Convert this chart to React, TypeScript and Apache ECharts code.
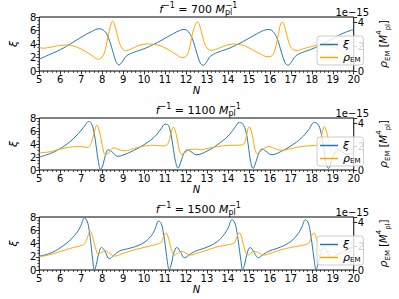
import { useEffect, useRef } from "react";
import * as echarts from "echarts";

type P = [number, number];

const fInverse = ["700", "1100", "1500"];
const nTicks = [5, 20, 1]; // min, max, step of N axis
const xiRange = [0, 8, 2];
const rhoRange = [0, 4.44, 2];

const xi700: P[] = [
  [5.0, 1.75], [5.5, 2.45], [6.0, 3.15], [6.5, 4.05], [7.0, 5.0], [7.5, 5.85], [7.85, 6.25],
  [8.1, 5.95], [8.3, 4.9], [8.5, 3.0], [8.66, 1.4], [8.8, 0.9], [8.95, 1.3], [9.15, 2.2],
  [9.5, 2.75], [10.0, 3.3], [10.5, 4.0], [11.0, 4.85], [11.4, 5.55], [11.7, 6.0], [11.9, 6.15],
  [12.1, 5.85], [12.3, 4.8], [12.5, 2.8], [12.68, 1.2], [12.82, 0.85], [12.97, 1.3],
  [13.17, 2.2], [13.5, 2.75], [14.0, 3.3], [14.5, 4.0], [15.0, 4.85], [15.4, 5.55],
  [15.7, 6.0], [15.95, 6.15], [16.15, 5.85], [16.35, 4.8], [16.55, 2.8], [16.73, 1.2],
  [16.87, 0.85], [17.02, 1.3], [17.22, 2.2], [17.55, 2.75], [18.0, 3.25], [18.5, 3.95],
  [19.0, 4.8], [19.5, 5.6], [20.0, 6.15],
];
const rho700: P[] = [
  [5.0, 1.94], [5.2, 1.87], [5.5, 1.95], [6.0, 2.1], [6.3, 2.14], [6.6, 2.07], [7.0, 1.8],
  [7.5, 1.3], [7.8, 0.97], [8.0, 1.15], [8.15, 1.75], [8.3, 3.0], [8.42, 3.85], [8.5, 4.1],
  [8.58, 3.9], [8.7, 3.1], [8.85, 2.2], [9.0, 1.78], [9.12, 1.67], [9.4, 1.83], [9.8, 2.13],
  [10.2, 2.22], [10.6, 2.15], [11.0, 1.9], [11.5, 1.4], [11.8, 1.11], [12.0, 1.2],
  [12.15, 1.75], [12.3, 3.0], [12.45, 3.85], [12.55, 4.05], [12.63, 3.85], [12.75, 3.1],
  [12.9, 2.2], [13.05, 1.8], [13.2, 1.7], [13.6, 1.9], [14.0, 2.15], [14.3, 2.22],
  [14.7, 2.12], [15.0, 1.9], [15.5, 1.45], [15.9, 1.17], [16.1, 1.25], [16.25, 1.8],
  [16.4, 3.0], [16.52, 3.9], [16.6, 4.02], [16.68, 3.8], [16.8, 3.0], [16.95, 2.15],
  [17.1, 1.78], [17.3, 1.69], [17.6, 1.83], [18.0, 2.02], [18.4, 2.15], [18.8, 2.1],
  [19.2, 1.85], [19.6, 1.45], [20.0, 1.22],
];

const xi1100: P[] = [
  [5.0, 2.0], [5.5, 2.5], [6.0, 3.3], [6.5, 4.45], [7.0, 6.1], [7.2, 6.95], [7.35, 7.45],
  [7.48, 7.2], [7.6, 6.0], [7.72, 3.5], [7.82, 1.3], [7.92, 0.1], [8.02, 0.6], [8.15, 2.2],
  [8.28, 3.1], [8.45, 2.85], [8.75, 2.1], [9.0, 2.3], [9.5, 3.0], [10.0, 3.9], [10.5, 5.1],
  [10.8, 6.3], [11.0, 7.05], [11.12, 7.0], [11.25, 6.0], [11.37, 3.8], [11.5, 1.3],
  [11.62, 0.3], [11.75, 1.2], [11.9, 2.6], [12.05, 3.1], [12.2, 2.9], [12.5, 2.35],
  [13.0, 2.9], [13.5, 3.9], [14.0, 5.2], [14.3, 6.4], [14.55, 7.3], [14.7, 7.1],
  [14.85, 6.0], [14.97, 3.8], [15.08, 1.3], [15.2, 0.25], [15.32, 1.1], [15.48, 2.6],
  [15.63, 3.25], [15.8, 2.9], [16.1, 2.35], [16.5, 2.8], [17.0, 3.7], [17.5, 4.9],
  [17.85, 6.2], [18.12, 7.3], [18.28, 7.1], [18.42, 6.0], [18.55, 3.8], [18.67, 1.3],
  [18.8, 0.25], [18.92, 1.1], [19.08, 2.6], [19.23, 3.2], [19.4, 2.9], [19.7, 2.4],
  [20.0, 2.85],
];
const rho1100: P[] = [
  [5.0, 1.47], [5.5, 1.55], [6.0, 1.78], [6.5, 1.96], [7.0, 2.0], [7.3, 1.92], [7.45, 2.2],
  [7.58, 2.9], [7.68, 3.6], [7.75, 3.83], [7.82, 3.6], [7.92, 2.9], [8.03, 1.9], [8.15, 1.32],
  [8.3, 1.44], [8.55, 1.89], [8.85, 1.72], [9.1, 1.64], [9.5, 1.83], [10.0, 2.04],
  [10.5, 2.11], [10.9, 2.06], [11.1, 2.16], [11.22, 2.7], [11.32, 3.4], [11.4, 3.66],
  [11.48, 3.4], [11.58, 2.6], [11.7, 1.6], [11.8, 1.33], [12.0, 1.55], [12.2, 1.76],
  [12.5, 1.78], [12.7, 1.73], [13.0, 1.83], [13.5, 2.0], [14.0, 2.1], [14.5, 2.12],
  [14.75, 2.2], [14.87, 2.8], [14.95, 3.5], [15.02, 3.68], [15.1, 3.4], [15.2, 2.6],
  [15.3, 1.7], [15.4, 1.39], [15.6, 1.67], [15.95, 2.0], [16.3, 1.78], [16.6, 1.68],
  [17.0, 1.83], [17.5, 2.0], [18.0, 2.08], [18.3, 2.13], [18.43, 2.7], [18.52, 3.4],
  [18.6, 3.72], [18.68, 3.4], [18.8, 2.5], [18.92, 1.6], [19.02, 1.39], [19.4, 1.78],
  [19.7, 1.94], [20.0, 1.8],
];

const xi1500: P[] = [
  [5.0, 2.1], [5.5, 2.5], [6.0, 3.35], [6.5, 4.6], [6.85, 5.9], [7.0, 6.8], [7.15, 7.85],
  [7.28, 7.4], [7.38, 6.0], [7.47, 3.8], [7.55, 1.5], [7.63, 0.05], [7.72, 0.8], [7.83, 2.4],
  [7.97, 3.4], [8.12, 2.9], [8.35, 1.7], [8.55, 2.2], [8.85, 2.9], [9.2, 3.2], [9.6, 3.55],
  [10.0, 4.15], [10.3, 5.0], [10.5, 6.0], [10.7, 7.4], [10.82, 7.0], [10.92, 5.6],
  [11.02, 3.5], [11.1, 1.5], [11.2, 0.1], [11.3, 0.9], [11.42, 2.6], [11.56, 3.4],
  [11.72, 2.8], [11.93, 1.85], [12.2, 2.4], [12.5, 2.9], [13.0, 3.45], [13.5, 4.3],
  [13.8, 5.3], [14.0, 6.3], [14.2, 7.6], [14.33, 7.1], [14.43, 5.7], [14.53, 3.5],
  [14.62, 1.4], [14.7, 0.1], [14.8, 0.9], [14.92, 2.6], [15.06, 3.4], [15.22, 2.8],
  [15.45, 1.85], [15.7, 2.4], [16.0, 2.9], [16.5, 3.45], [17.0, 4.3], [17.3, 5.3],
  [17.5, 6.3], [17.7, 7.6], [17.83, 7.1], [17.93, 5.7], [18.03, 3.5], [18.12, 1.4],
  [18.2, 0.1], [18.3, 0.9], [18.42, 2.6], [18.56, 3.4], [18.72, 2.8], [18.95, 1.85],
  [19.3, 2.5], [19.65, 3.05], [20.0, 3.5],
];
const rho1500: P[] = [
  [5.0, 1.11], [5.5, 1.28], [6.0, 1.55], [6.5, 1.82], [7.0, 2.05], [7.15, 2.16], [7.25, 2.5],
  [7.34, 2.95], [7.42, 3.25], [7.5, 3.05], [7.6, 2.4], [7.7, 1.75], [7.8, 1.35], [7.95, 1.44],
  [8.15, 1.61], [8.35, 1.39], [8.6, 1.17], [8.9, 1.33], [9.5, 1.67], [10.0, 1.89],
  [10.5, 2.11], [10.8, 2.3], [10.9, 2.65], [10.98, 3.0], [11.05, 3.11], [11.13, 2.85],
  [11.23, 2.2], [11.35, 1.45], [11.47, 1.25], [11.65, 1.5], [11.82, 1.55], [12.0, 1.4],
  [12.2, 1.25], [12.5, 1.39], [13.0, 1.67], [13.5, 1.94], [14.0, 2.11], [14.3, 2.28],
  [14.4, 2.65], [14.48, 3.0], [14.55, 3.11], [14.63, 2.85], [14.73, 2.2], [14.85, 1.45],
  [14.97, 1.25], [15.15, 1.5], [15.3, 1.55], [15.5, 1.42], [15.72, 1.25], [16.0, 1.39],
  [16.5, 1.67], [17.0, 1.89], [17.5, 2.05], [17.85, 2.25], [17.95, 2.65], [18.03, 3.0],
  [18.1, 3.11], [18.18, 2.85], [18.28, 2.2], [18.4, 1.45], [18.52, 1.28], [18.7, 1.5],
  [18.88, 1.58], [19.1, 1.45], [19.4, 1.35], [20.0, 1.67],
];

const xiData = [xi700, xi1100, xi1500];
const rhoData = [rho700, rho1100, rho1500];

const FONT = "DejaVu Sans";
const BLUE = "#1f77b4";
const ORANGE = "#ffa500";
const LEFT = 27;
const WIDTH = 342;
const TOPS = [17, 118, 217];
const HEIGHTS = [54, 52, 53];

export default function App() {
  const ref = useRef<HTMLDivElement>(null);
  useEffect(() => {
    const chart = echarts.init(ref.current!, null, { renderer: "svg" });
    const tick = { show: true, inside: false, length: 3.5, lineStyle: { color: "#000", width: 0.8 } };
    const minor = (n: number) => ({ show: true, splitNumber: n, length: 2, lineStyle: { color: "#000", width: 0.6 } });
    const label = { color: "#000", fontSize: 10, fontFamily: FONT, margin: 3, inside: false };

    const grids = TOPS.map((t, i) => ({
      left: LEFT, top: t, width: WIDTH, height: HEIGHTS[i], containLabel: false,
      show: true, borderColor: "#000", borderWidth: 1, backgroundColor: "transparent",
    }));
    const xAxes = TOPS.map((_, i) => ({
      type: "value", gridIndex: i, min: nTicks[0], max: nTicks[1], interval: nTicks[2],
      axisLine: { show: false }, axisTick: tick, minorTick: minor(5),
      axisLabel: label, splitLine: { show: false },
      name: "N", nameLocation: "middle", nameGap: 14,
      nameTextStyle: { fontStyle: "italic", fontSize: 10, color: "#000", fontFamily: FONT },
    }));
    const yAxes: any[] = [];
    TOPS.forEach((_, i) => {
      yAxes.push({
        type: "value", gridIndex: i, position: "left", offset: 0,
        min: xiRange[0], max: xiRange[1], interval: xiRange[2],
        axisLine: { show: false }, axisTick: tick, minorTick: minor(4),
        axisLabel: label, splitLine: { show: false },
        name: "ξ", nameLocation: "middle", nameGap: 10, nameRotate: 90,
        nameTextStyle: { fontStyle: "italic", fontSize: 11, color: "#000", fontFamily: FONT },
      });
      yAxes.push({
        type: "value", gridIndex: i, position: "right", offset: 0,
        min: rhoRange[0], max: rhoRange[1], interval: rhoRange[2],
        axisLine: { show: false }, axisTick: tick,
        axisLabel: { ...label, margin: 4, formatter: (v: number) => (Math.abs(v % 2) < 1e-9 ? String(v) : "") },
        splitLine: { show: false },
        name: "{r|ρ}{e|EM}{n| [}{m|M}{p|4}{e|pl}{n|]}", nameLocation: "middle", nameGap: 17, nameRotate: 90,
        nameTextStyle: {
          color: "#000", fontFamily: FONT,
          rich: {
            r: { fontSize: 11, fontStyle: "italic", fontFamily: FONT, lineHeight: 16 },
            n: { fontSize: 10, fontFamily: FONT, lineHeight: 16 },
            m: { fontSize: 10, fontStyle: "italic", fontFamily: FONT, lineHeight: 16 },
            e: { fontSize: 7, fontFamily: FONT, lineHeight: 8, verticalAlign: "bottom" },
            p: { fontSize: 7, fontFamily: FONT, lineHeight: 8, verticalAlign: "top" },
          },
        },
      });
    });

    const series: any[] = [];
    TOPS.forEach((_, i) => {
      series.push({
        type: "line", name: "xi", xAxisIndex: i, yAxisIndex: 2 * i, data: xiData[i],
        showSymbol: false, smooth: 0.4,
        lineStyle: { color: BLUE, width: 1 }, itemStyle: { color: BLUE },
      });
      series.push({
        type: "line", name: "rho", xAxisIndex: i, yAxisIndex: 2 * i + 1, data: rhoData[i],
        showSymbol: false, smooth: 0.4,
        lineStyle: { color: ORANGE, width: 1 }, itemStyle: { color: ORANGE },
      });
    });

    const legends = TOPS.map((t) => ({
      left: 317, top: t + 19, orient: "vertical", data: ["xi", "rho"], icon: "rect",
      itemWidth: 18, itemHeight: 1.5, itemGap: 2, padding: [3, 3, 2, 3],
      backgroundColor: "rgba(255,255,255,0.8)", borderColor: "#cccccc", borderWidth: 1, borderRadius: 3,
      selectedMode: false,
      formatter: (name: string) => (name === "xi" ? "{g|ξ}" : "{g|ρ}{s|EM}"),
      textStyle: {
        color: "#000", fontFamily: FONT, fontSize: 10,
        rich: {
          g: { fontSize: 11, fontStyle: "italic", fontFamily: FONT, lineHeight: 11 },
          s: { fontSize: 7, fontFamily: FONT, lineHeight: 7, verticalAlign: "bottom" },
        },
      },
    }));

    const graphic: any[] = [];
    TOPS.forEach((t, i) => {
      const f = fInverse[i];
      const anchor = f.length === 3 ? 225 : 228.5;
      const cy = t - 8;
      graphic.push({
        type: "text", x: anchor, y: cy,
        style: {
          text: `{i|f}{s|−1}{n| = ${f} }{i|M}`, align: "right", verticalAlign: "middle", fill: "#000",
          rich: {
            i: { fontSize: 11, fontStyle: "italic", fontFamily: FONT, lineHeight: 16 },
            n: { fontSize: 11, fontFamily: FONT, lineHeight: 16 },
            s: { fontSize: 8, fontFamily: FONT, lineHeight: 8, verticalAlign: "top" },
          },
        },
      });
      graphic.push({
        type: "text", x: anchor + 0.5, y: cy - 4,
        style: { text: "−1", fontSize: 8, fontFamily: FONT, fill: "#000", align: "left", verticalAlign: "middle" },
      });
      graphic.push({
        type: "text", x: anchor, y: cy + 3.5,
        style: { text: "pl", fontSize: 8, fontFamily: FONT, fill: "#000", align: "left", verticalAlign: "middle" },
      });
      graphic.push({
        type: "text", x: LEFT + WIDTH, y: t - 5,
        style: { text: "1e−15", fontSize: 10, fontFamily: FONT, fill: "#000", align: "right", verticalAlign: "middle" },
      });
    });

    chart.setOption({
      animation: false,
      backgroundColor: "#fff",
      textStyle: { fontFamily: FONT },
      grid: grids,
      xAxis: xAxes,
      yAxis: yAxes,
      legend: legends,
      series,
      graphic,
    });
    return () => chart.dispose();
  }, []);
  return (
    <div
      ref={ref}
      style={{ position: "fixed", left: 0, top: 0, width: 399, height: 299, background: "#fff" }}
    />
  );
}
